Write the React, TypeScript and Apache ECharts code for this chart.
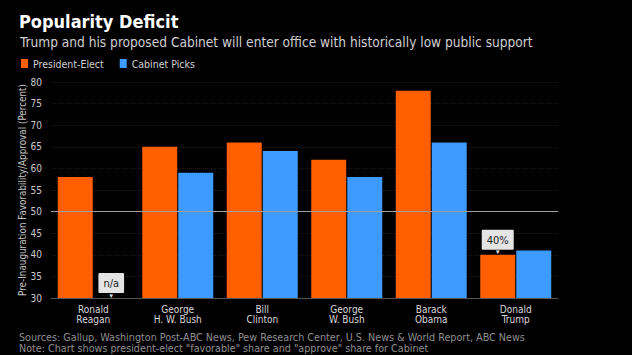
import React, { useEffect, useRef } from "react";
import * as echarts from "echarts";

const categories = [
  "Ronald\nReagan",
  "George\nH. W. Bush",
  "Bill\nClinton",
  "George\nW. Bush",
  "Barack\nObama",
  "Donald\nTrump",
];
const presidentElect = [58, 65, 66, 62, 78, 40];
const cabinetPicks: (number | null)[] = [null, 59, 64, 58, 66, 41];
const yTicks = { min: 30, max: 80, interval: 5 };

const NARROW = "'Liberation Sans Narrow', 'DejaVu Sans Condensed', 'Liberation Sans', sans-serif";

export default function App() {
  const ref = useRef<HTMLDivElement>(null);
  useEffect(() => {
    if (!ref.current) return;
    const chart = echarts.init(ref.current, undefined, { renderer: "svg" });
    const calloutLabel = (text: string) => ({
      show: true,
      position: "top" as const,
      distance: 0,
      formatter: `{box|${text}}\n{arrow|▼}`,
      rich: {
        box: {
          backgroundColor: "#e4e4e4",
          color: "#222",
          fontFamily: NARROW,
          fontSize: 11,
          padding: [5, 5, 4, 5],
          borderRadius: 1,
          align: "center",
        },
        arrow: {
          color: "#e4e4e4",
          fontSize: 6,
          lineHeight: 5,
          align: "center",
        },
      },
    });
    const orangeData = presidentElect.map((v, i) =>
      i === categories.length - 1 ? { value: v, label: calloutLabel(`${v}%`) } : v
    );
    const blueData = cabinetPicks.map((v) =>
      v === null
        ? {
            value: yTicks.min,
            itemStyle: { color: "rgba(0,0,0,0)" },
            label: calloutLabel("n/a"),
          }
        : v
    );
    const footStyle = {
      color: "#8f8f8f",
      fontSize: 10.7,
      lineHeight: 10.5,
      fontWeight: "normal" as const,
      fontFamily: NARROW,
    };
    chart.setOption({
      animation: false,
      backgroundColor: "#000",
      title: [
        {
          text: "Popularity Deficit",
          left: 19,
          top: 12,
          padding: 0,
          textStyle: { color: "#fff", fontSize: 18, fontWeight: "bold", fontFamily: NARROW },
        },
        {
          text: "Trump and his proposed Cabinet will enter office with historically low public support",
          left: 20,
          top: 35,
          padding: 0,
          textStyle: { color: "#d0d0d0", fontSize: 13.6, fontWeight: "normal", fontFamily: NARROW },
        },
        {
          text: "Sources: Gallup, Washington Post-ABC News, Pew Research Center, U.S. News & World Report, ABC News",
          left: 19,
          top: 332,
          padding: 0,
          textStyle: footStyle,
        },
        {
          text: 'Note: Chart shows president-elect "favorable" share and "approve" share for Cabinet',
          left: 19,
          top: 343.5,
          padding: 0,
          textStyle: footStyle,
        },
      ],
      legend: {
        left: 21,
        top: 58,
        padding: 0,
        itemWidth: 7,
        itemHeight: 9,
        itemGap: 16,
        icon: "rect",
        textStyle: { color: "#d0d0d0", fontSize: 10.5, fontFamily: NARROW },
        data: ["President-Elect", "Cabinet Picks"],
      },
      grid: { left: 51, right: 74, top: 82, bottom: 57 },
      xAxis: {
        type: "category",
        data: categories,
        axisLine: { lineStyle: { color: "#555" } },
        axisTick: { alignWithLabel: true, length: 3, lineStyle: { color: "#555" } },
        axisLabel: { color: "#d8d8d8", fontSize: 10, fontFamily: NARROW, margin: 6, lineHeight: 10 },
      },
      yAxis: {
        type: "value",
        min: yTicks.min,
        max: yTicks.max,
        interval: yTicks.interval,
        name: "Pre-Inauguration Favorability/Approval (Percent)",
        nameLocation: "middle",
        nameGap: 24,
        nameMoveOverlap: false,
        nameTextStyle: { color: "#c8c8c8", fontSize: 9.8, fontFamily: NARROW },
        axisLine: { show: false },
        axisTick: { show: false },
        axisLabel: { color: "#c8c8c8", fontSize: 10, fontFamily: NARROW, margin: 9 },
        splitLine: { lineStyle: { color: "#1c1c1c", type: "dotted" } },
      },
      series: [
        {
          name: "President-Elect",
          type: "bar",
          data: orangeData,
          itemStyle: { color: "#ff5f00" },
          barGap: "3%",
          barCategoryGap: "16%",
          markLine: {
            silent: true,
            symbol: "none",
            label: { show: false },
            lineStyle: { color: "#a0a0a0", type: "solid", width: 1 },
            data: [{ yAxis: 50 }],
          },
        },
        {
          name: "Cabinet Picks",
          type: "bar",
          data: blueData,
          itemStyle: { color: "#3d9bff" },
          barGap: "3%",
          barCategoryGap: "16%",
        },
      ],
    });
    return () => chart.dispose();
  }, []);
  return <div ref={ref} style={{ width: 632, height: 355, position: "absolute", left: 0, top: 0 }} />;
}
